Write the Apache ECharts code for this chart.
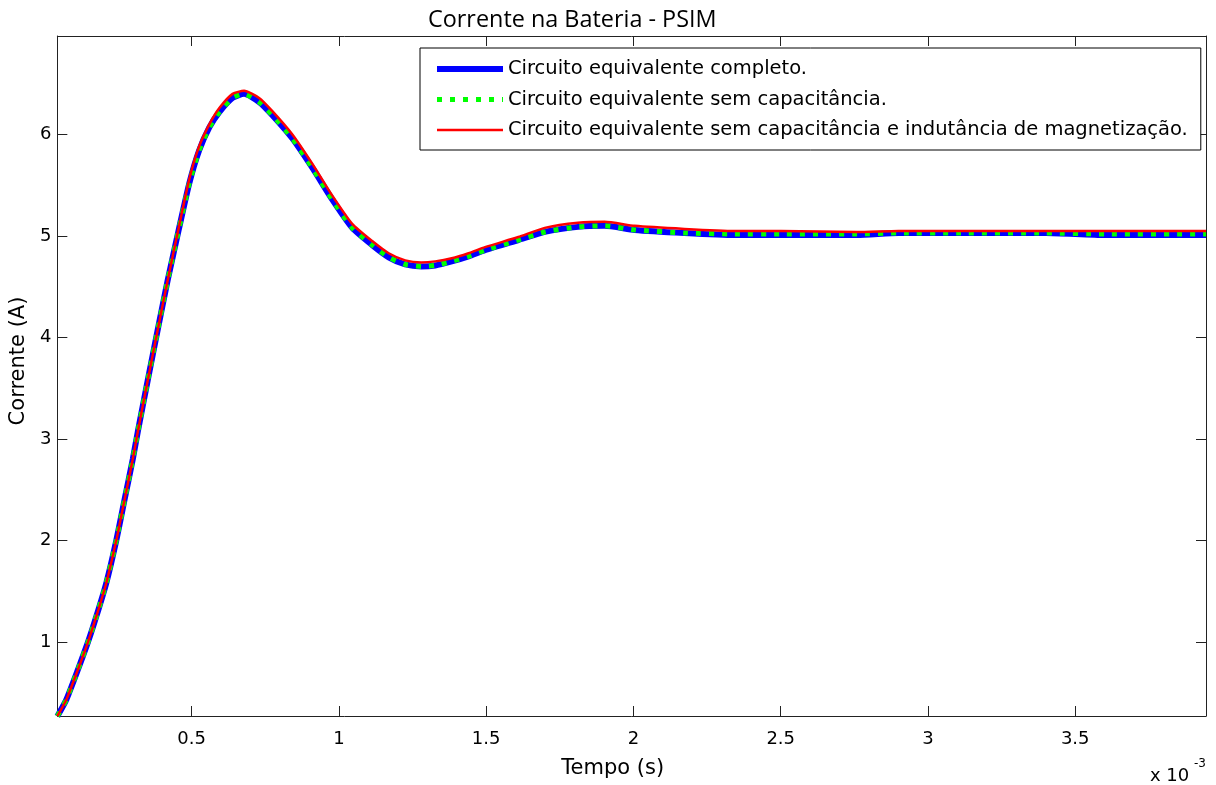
<!DOCTYPE html>
<html>
<head>
<meta charset="utf-8">
<title>Corrente na Bateria - PSIM</title>
<script src="https://cdn.jsdelivr.net/npm/echarts@6.0.0/dist/echarts.min.js"></script>
<style>
    html, body { margin: 0; padding: 0; background: #fff; }
    #main { width: 1216px; height: 785px; }
</style>
</head>
<body>
<div id="main"></div>
<script>
// tempo em unidades de 10^-3 s
var tempo = [0.044, 0.074, 0.114, 0.148, 0.176, 0.210, 0.244, 0.272, 0.300, 0.317,
    0.351, 0.385, 0.419, 0.456, 0.492, 0.525, 0.560, 0.594, 0.639, 0.678,
    0.729, 0.774, 0.842, 0.910, 0.977, 1.045, 1.113, 1.169, 1.225, 1.280,
    1.327, 1.383, 1.440, 1.496, 1.609, 1.699, 1.812, 1.902, 2.004, 2.173,
    2.343, 2.500, 2.760, 2.900, 3.100, 3.400, 3.600, 3.944];
var completo = [0.27, 0.43, 0.73, 1.00, 1.25, 1.58, 2.00, 2.40, 2.80, 3.07,
    3.58, 4.08, 4.57, 5.06, 5.52, 5.84, 6.07, 6.22, 6.36, 6.40,
    6.32, 6.19, 5.96, 5.67, 5.36, 5.08, 4.91, 4.79, 4.72, 4.70,
    4.71, 4.75, 4.80, 4.86, 4.96, 5.04, 5.09, 5.10, 5.06, 5.03,
    5.01, 5.01, 5.01, 5.03, 5.03, 5.03, 5.01, 5.01];
var semCapacitancia = [0.27, 0.43, 0.73, 1.00, 1.25, 1.58, 2.00, 2.40, 2.80, 3.07,
    3.58, 4.08, 4.57, 5.06, 5.52, 5.84, 6.07, 6.22, 6.36, 6.40,
    6.32, 6.19, 5.96, 5.67, 5.36, 5.08, 4.91, 4.79, 4.72, 4.70,
    4.71, 4.75, 4.80, 4.86, 4.96, 5.04, 5.09, 5.10, 5.06, 5.03,
    5.02, 5.02, 5.02, 5.03, 5.03, 5.03, 5.02, 5.02];
var semCapIndutancia = [0.27, 0.43, 0.73, 1.00, 1.25, 1.58, 2.00, 2.40, 2.80, 3.07,
    3.58, 4.08, 4.57, 5.08, 5.56, 5.88, 6.10, 6.26, 6.40, 6.43,
    6.36, 6.23, 6.00, 5.71, 5.40, 5.12, 4.95, 4.83, 4.76, 4.74,
    4.75, 4.78, 4.83, 4.89, 4.99, 5.08, 5.13, 5.14, 5.10, 5.07,
    5.05, 5.05, 5.04, 5.05, 5.05, 5.05, 5.05, 5.05];
var xTicks = [0.5, 1, 1.5, 2, 2.5, 3, 3.5];
var yTicks = [1, 2, 3, 4, 5, 6];
var nomes = ['Circuito equivalente completo.',
    'Circuito equivalente sem capacitância.',
    'Circuito equivalente sem capacitância e indutância de magnetização.'];

window.onload = function () {
    var myChart = echarts.init(document.getElementById('main'), null, { renderer: 'canvas' });

    function pares(valores) {
        var out = [];
        for (var i = 0; i < tempo.length; i++) {
            out.push([tempo[i], valores[i]]);
        }
        return out;
    }

    var fonte = 'DejaVu Sans';
    var eixo = { color: '#222', width: 1 };
    var azul = { color: '#0000ff', width: 6 };
    var verde = { color: '#00ff00', width: 5, type: [5, 8], cap: 'butt' };
    var vermelho = { color: '#ff0000', width: 2.5 };

    var option = {
        animation: false,
        backgroundColor: '#fff',
        title: {
            text: 'Corrente na Bateria - PSIM',
            left: 423,
            top: 4,
            textStyle: { fontFamily: 'Open Sans', fontSize: 23.4, fontWeight: 'normal', color: '#000' }
        },
        grid: { left: 54, right: 10, top: 36, bottom: 69 },
        legend: {
            data: [
                { name: nomes[0], lineStyle: azul },
                { name: nomes[1], lineStyle: verde },
                { name: nomes[2], lineStyle: vermelho }
            ],
            orient: 'vertical',
            left: 420,
            top: 48,
            itemWidth: 66,
            itemHeight: 20,
            itemGap: 10.5,
            padding: [11, 13, 10, 14],
            borderColor: '#000',
            borderWidth: 1,
            borderRadius: 0,
            backgroundColor: '#fff',
            itemStyle: { opacity: 0 },
            textStyle: { fontFamily: fonte, fontSize: 19.5, color: '#000' }
        },
        xAxis: [{
            type: 'value',
            min: 0.044,
            max: 3.944,
            position: 'bottom',
            name: 'Tempo (s)',
            nameLocation: 'middle',
            nameGap: 42,
            nameTextStyle: { fontFamily: fonte, fontSize: 21, color: '#000', padding: [0, 38, 0, 0] },
            axisLine: { lineStyle: eixo },
            axisTick: { inside: true, length: 10, lineStyle: eixo, customValues: xTicks },
            axisLabel: { fontFamily: fonte, fontSize: 18, color: '#000', margin: 14, customValues: xTicks },
            splitLine: { show: false }
        }, {
            type: 'value',
            min: 0.044,
            max: 3.944,
            position: 'top',
            axisLine: { lineStyle: eixo },
            axisTick: { inside: true, length: 10, lineStyle: eixo, customValues: xTicks },
            axisLabel: { show: false },
            splitLine: { show: false }
        }],
        yAxis: [{
            type: 'value',
            min: 0.272,
            max: 6.97,
            position: 'left',
            name: 'Corrente (A)',
            nameLocation: 'middle',
            nameGap: 13,
            nameTextStyle: { fontFamily: fonte, fontSize: 21, color: '#000', padding: [0, 0, 0, 30] },
            axisLine: { show: true, lineStyle: eixo },
            axisTick: { show: true, inside: true, length: 10, lineStyle: eixo, customValues: yTicks },
            axisLabel: { fontFamily: fonte, fontSize: 18, color: '#000', margin: 6, customValues: yTicks },
            splitLine: { show: false }
        }, {
            type: 'value',
            min: 0.272,
            max: 6.97,
            position: 'right',
            axisLine: { show: true, lineStyle: eixo },
            axisTick: { show: true, inside: true, length: 10, lineStyle: eixo, customValues: yTicks },
            axisLabel: { show: false },
            splitLine: { show: false }
        }],
        graphic: [{
            type: 'text',
            left: 1150,
            top: 767,
            style: { text: 'x 10', font: '18px "DejaVu Sans"', fill: '#000' }
        }, {
            type: 'text',
            left: 1194,
            top: 758,
            style: { text: '-3', font: '12px "DejaVu Sans"', fill: '#000' }
        }],
        series: [{
            name: nomes[0],
            type: 'line',
            data: pares(completo),
            symbol: 'none',
            smooth: 0.2,
            color: '#0000ff',
            lineStyle: azul,
            z: 2
        }, {
            name: nomes[1],
            type: 'line',
            data: pares(semCapacitancia),
            symbol: 'none',
            smooth: 0.2,
            color: '#00ff00',
            lineStyle: verde,
            z: 3
        }, {
            name: nomes[2],
            type: 'line',
            data: pares(semCapIndutancia),
            symbol: 'none',
            smooth: 0.2,
            color: '#ff0000',
            lineStyle: vermelho,
            z: 4
        }]
    };

    myChart.setOption(option);
};
</script>
</body>
</html>
